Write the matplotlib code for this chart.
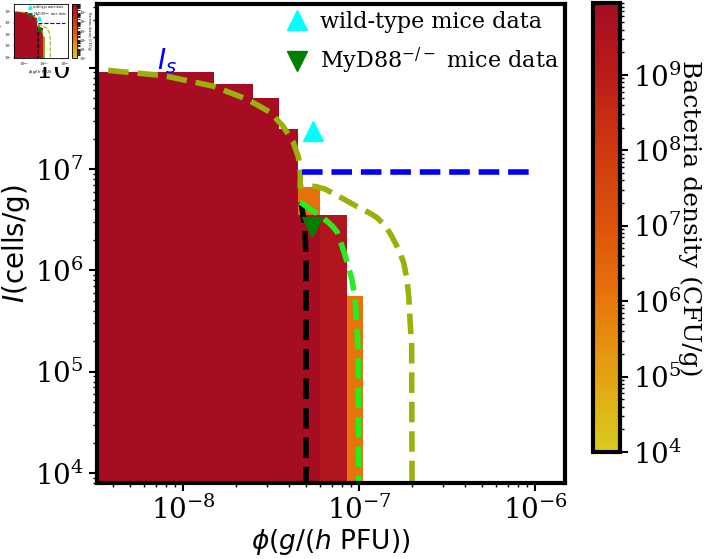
import matplotlib

matplotlib.use("Agg")
import matplotlib.pyplot as plt
import numpy as np
from matplotlib.colors import LinearSegmentedColormap, LogNorm
from matplotlib.patches import Rectangle

plt.rcParams["font.family"] = ["DejaVu Serif"]
plt.rcParams["mathtext.fontset"] = "dejavuserif"

# heatmap grid (cell edges) and bacteria density per cell, NaN = empty
phi_edges = [2e-9, 1.5e-8, 2.5e-8, 3.5e-8, 4.5e-8, 6.0e-8, 8.5e-8, 1.05e-7]
I_edges = [5e3, 5.6e5, 3.5e6, 6.7e6, 2.5e7, 5.0e7, 7.0e7, 9.0e7]
nan = np.nan
density = [
    [8e9, 8e9, 8e9, 8e9, 8e9, 2.5e9, 1.2e6],
    [8e9, 8e9, 8e9, 8e9, 8e9, 2.5e9, nan],
    [8e9, 8e9, 8e9, 8e9, 1.5e6, nan, nan],
    [8e9, 8e9, 8e9, 8e9, nan, nan, nan],
    [8e9, 8e9, 8e9, nan, nan, nan, nan],
    [8e9, 8e9, nan, nan, nan, nan, nan],
    [8e9, nan, nan, nan, nan, nan, nan],
]

# I_s boundary (olive)
is_phi = [3.75e-9, 7.7e-9, 1.48e-8, 2.31e-8, 3.12e-8, 3.7e-8, 4.22e-8, 4.5e-8, 4.62e-8, 4.64e-8,
          4.62e-8, 5.62e-8, 6.41e-8, 7.46e-8, 8.51e-8, 9.7e-8, 1.13e-7, 1.26e-7, 1.41e-7,
          1.53e-7, 1.67e-7, 1.79e-7, 1.87e-7, 1.92e-7, 1.95e-7, 1.99e-7, 2.0e-7]
is_I = [9.44e7, 8.4e7, 6.6e7, 4.9e7, 3.65e7, 2.65e7, 1.85e7, 1.35e7, 1.07e7, 8.5e6,
        6.7e6, 6.76e6, 6.35e6, 5.54e6, 4.87e6, 4.29e6, 3.74e6, 3.34e6, 2.76e6,
        2.2e6, 1.63e6, 1.2e6, 8.24e5, 5.24e5, 3.09e5, 1.82e5, 5e3]

# MyD88-/- boundary (lime)
my_phi = [4.62e-8, 5.0e-8, 5.48e-8, 6.1e-8, 6.67e-8, 7.1e-8, 7.5e-8, 8.0e-8, 8.55e-8,
          9.1e-8, 9.5e-8, 9.7e-8, 9.85e-8, 1.0e-7]
my_I = [4.73e6, 4.3e6, 3.86e6, 3.4e6, 3.0e6, 2.7e6, 2.4e6, 1.74e6, 1.21e6,
        8.2e5, 5.2e5, 2.8e5, 1.8e5, 5e3]

# black threshold line
bk_phi = [4.68e-8, 4.82e-8, 4.93e-8, 5.0e-8, 5.0e-8]
bk_I = [4.73e6, 3.4e6, 2.4e6, 1.2e6, 5e3]

# blue horizontal
bl_phi = [4.75e-8, 1.0e-6]
bl_I = [9.3e6, 9.3e6]

wt_phi, wt_I = [5.5e-8], [2.37e7]
ko_phi, ko_I = [5.4e-8], [2.7e6]

cb_colors = ["#d8cb1e", "#e3a413", "#e8770b", "#dc5409", "#cf3b10", "#bb1d19", "#a50c22"]
cmap = LinearSegmentedColormap.from_list("bact", cb_colors)
norm = LogNorm(vmin=1e4, vmax=9e9)


def draw_panel(ax, lw, ms, legend_fs=None):
    data = np.ma.masked_invalid(np.array(density))
    mesh = ax.pcolormesh(phi_edges, I_edges, data, cmap=cmap, norm=norm, shading="flat")
    ax.plot(is_phi, is_I, "--", color="#9cb00c", lw=lw)
    ax.plot(bk_phi, bk_I, "--", color="black", lw=lw)
    ax.plot(my_phi, my_I, "--", color="#22ee22", lw=lw)
    ax.plot(bl_phi, bl_I, "--", color="blue", lw=lw)
    ax.plot(wt_phi, wt_I, "^", color="cyan", ms=ms, label="wild-type mice data")
    ax.plot(ko_phi, ko_I, "v", color="green", ms=ms, label="MyD88$^{-/-}$ mice data")
    ax.set_xscale("log")
    ax.set_yscale("log")
    ax.set_xlim(3.24e-9, 1.48e-6)
    ax.set_ylim(7.97e3, 4.27e8)
    if legend_fs:
        ax.legend(loc="upper right", bbox_to_anchor=(1, 1), frameon=False, fontsize=legend_fs,
                  handlelength=1.2, handletextpad=0.4, borderaxespad=0, borderpad=0.3,
                  labelspacing=0.6)
    return mesh


fig = plt.figure(figsize=(7.11, 5.59), dpi=100)
ax = fig.add_axes([97 / 711, 1 - 483 / 559, 468 / 711, 479 / 559])
mesh = draw_panel(ax, 4, 14, legend_fs=16)
ax.text(8.1e-9, 1.16e8, "$I_s$", color="blue", fontsize=20, ha="center", va="center",
        math_fontfamily="dejavusans")
ax.set_xticks([1e-8, 1e-7, 1e-6])
ax.set_yticks([1e4, 1e5, 1e6, 1e7, 1e8])
ax.tick_params(labelsize=20, width=1.5, length=6)
ax.tick_params(which="minor", width=1, length=3)
for s in ax.spines.values():
    s.set_linewidth(3)
ax.set_xlabel(r"$\phi(g/(h$ PFU$))$", fontsize=19, family="DejaVu Sans",
              math_fontfamily="dejavusans", labelpad=1)
ax.set_ylabel("$I$(cells/g)", fontsize=20, family="DejaVu Sans",
              math_fontfamily="dejavusans", labelpad=2)

cax = fig.add_axes([593 / 711, 1 - 452 / 559, 27 / 711, 449 / 559])
cb = fig.colorbar(mesh, cax=cax)
cb.outline.set_linewidth(3)
cb.set_ticks([1e4, 1e5, 1e6, 1e7, 1e8, 1e9])
cax.tick_params(labelsize=20, width=1.5, length=6)
cax.tick_params(which="minor", width=1, length=3)
cb.set_label("Bacteria density (CFU/g)", fontsize=18, rotation=270, va="center")
cax.yaxis.set_label_coords(97 / 27, 0.52)

# small thumbnail in the top-left corner
fig.patches.append(Rectangle((0, 1 - 67 / 559), 86 / 711, 67 / 559, transform=fig.transFigure,
                             facecolor="white", edgecolor="none", zorder=5))
iax = fig.add_axes([14 / 711, 1 - 58 / 559, 54 / 711, 54 / 559], zorder=10)
draw_panel(iax, 0.8, 2.5, legend_fs=2.2)
iax.set_xticks([1e-8, 1e-7, 1e-6])
iax.set_yticks([1e4, 1e5, 1e6, 1e7, 1e8])
iax.tick_params(labelsize=2.5, width=0.3, length=1, pad=0.5)
iax.tick_params(which="minor", width=0.2, length=0.5)
for s in iax.spines.values():
    s.set_linewidth(0.6)
iax.set_xlabel(r"$\phi(g/(h$ PFU$))$", fontsize=2.8, labelpad=0.5, family="DejaVu Sans",
               math_fontfamily="dejavusans")
iax.set_ylabel("$I$(cells/g)", fontsize=2.8, labelpad=0.3, family="DejaVu Sans",
               math_fontfamily="dejavusans")
icax = fig.add_axes([72 / 711, 1 - 58 / 559, 5 / 711, 54 / 559], zorder=10)
icb = fig.colorbar(mesh, cax=icax)
icb.outline.set_linewidth(0.6)
icax.tick_params(labelsize=2.5, width=0.3, length=1, pad=0.5)
icb.set_label("Bacteria density (CFU/g)", fontsize=2.2, rotation=270, labelpad=3)

fig.savefig("out.png", dpi=100)
